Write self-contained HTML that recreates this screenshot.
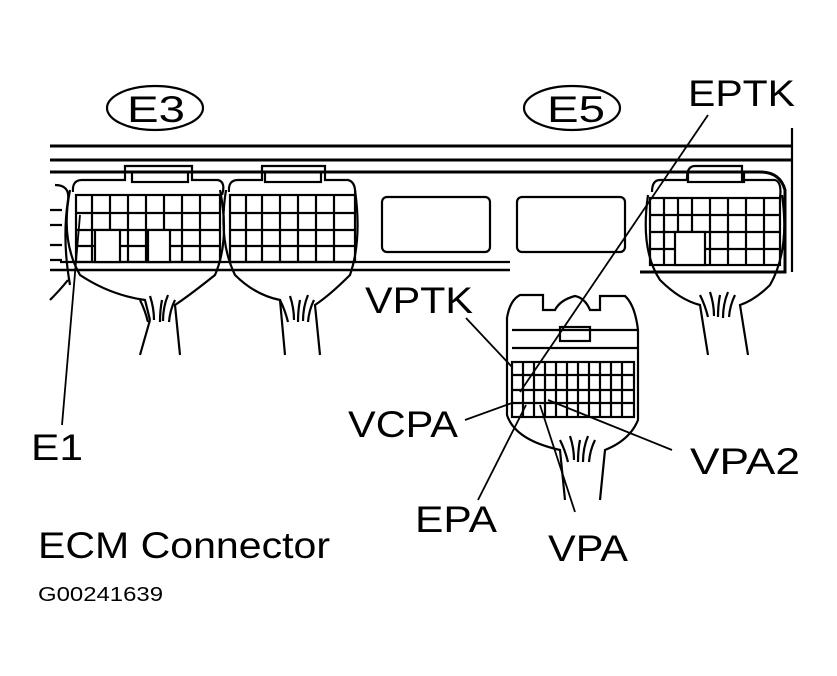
<!DOCTYPE html>
<html><head><style>
html,body{margin:0;padding:0;background:#fff;}
svg{display:block;}
text{font-family:"Liberation Sans",Arial,sans-serif;fill:#000;}
</style></head><body>
<svg width="837" height="676" viewBox="0 0 837 676" xmlns="http://www.w3.org/2000/svg" fill="none" stroke="#000" stroke-width="2.2">
<line x1="50" y1="146" x2="792" y2="146" stroke-width="3"/>
<line x1="50" y1="160" x2="792" y2="160" stroke-width="3"/>
<path d="M50 172 H760 Q780 172 785 190 V272 H640" stroke-width="3"/>
<line x1="792" y1="128" x2="792" y2="272"/>
<line x1="50" y1="270" x2="510" y2="270" stroke-width="2.5"/>
<line x1="60" y1="262" x2="510" y2="262"/>
<path d="M50 210h12M50 225h12M50 245h12M50 260h12" />
<rect x="382" y="197" width="108" height="55" rx="5"/>
<rect x="517" y="197" width="108" height="55" rx="5"/>
<g>
<path d="M73 192 Q72 180 82 180 H125 V166 H192 V180 H218 Q226 182 222 195"/>
<rect x="132" y="172" width="56" height="10"/>
<rect x="76" y="195" width="144" height="67"/>
<path d="M76 213H220M76 230H220M76 246H220"/>
<path d="M92 195V262M110 195V262M128 195V262M146 195V262M164 195V262M182 195V262M200 195V262"/>
<rect x="95" y="230" width="25" height="32" fill="#fff"/>
<rect x="148" y="230" width="22" height="32" fill="#fff"/>
<path d="M70 190 Q60 240 80 275 Q110 295 145 300 L150 320 M220 190 Q230 240 215 275 Q190 295 175 305 L180 355 M150 320 L140 355"/>
<path d="M140 300 q5 10 8 22 M150 296 q4 12 4 24 M162 300 q-2 10 -2 22 M168 295 q-5 12 -5 26 M175 300 q-5 10 -6 22"/>
</g>
<g>
<path d="M229 192 Q228 180 238 180 H262 V166 H325 V180 H348 Q356 182 355 195"/>
<rect x="265" y="172" width="56" height="10"/>
<rect x="230" y="195" width="125" height="67"/>
<path d="M230 213H355M230 230H355M230 246H355"/>
<path d="M246 195V262M262 195V262M280 195V262M298 195V262M316 195V262M334 195V262"/>
<path d="M226 190 Q218 240 235 275 Q255 295 280 300 L285 355 M355 190 Q362 240 350 275 Q330 295 315 305 L320 355"/>
<path d="M280 300 q5 10 8 22 M290 296 q4 12 4 24 M300 300 q-2 10 -2 22 M308 295 q-5 12 -5 26 M314 300 q-5 10 -6 22"/>
</g>
<path d="M55 185 Q70 185 68 200 Q62 240 70 285 M50 300 Q60 290 68 280"/>
<g>
<path d="M652 192 Q652 180 660 180 H687 V178 Q687 166 695 166 H742 V180 H775 Q782 182 780 198"/>
<rect x="688" y="172" width="56" height="10"/>
<rect x="650" y="198" width="130" height="67"/>
<path d="M650 215H780M650 232H780M650 249H780"/>
<path d="M664 198V265M678 198V265M692 198V265M710 198V265M728 198V265M746 198V265M764 198V265"/>
<rect x="675" y="232" width="30" height="33" fill="#fff"/>
<path d="M648 195 Q640 250 660 280 Q680 300 700 305 L708 355 M782 195 Q790 250 770 285 Q755 300 740 305 L748 355"/>
<path d="M700 295 q5 10 8 22 M710 292 q4 12 4 24 M720 295 q-2 10 -2 22 M728 292 q-5 12 -5 26 M735 295 q-5 10 -6 22"/>
</g>
<g>
<path d="M507 330 V318 Q510 300 520 295 H543 V310 H555 Q560 300 575 296 Q585 298 590 310 H600 V296 H625 Q635 305 638 330 V420 Q630 440 605 450 L600 500 M507 330 V415 Q515 440 560 450 L565 500"/>
<path d="M512 348 H638 M512 330 H638"/>
<rect x="560" y="327" width="30" height="14"/>
<rect x="512" y="362" width="122" height="55"/>
<path d="M512 375H634M512 390H634M512 403H634"/>
<path d="M523 362V417M534 362V417M545 362V417M556 362V417M567 362V417M578 362V417M589 362V417M600 362V417M611 362V417M622 362V417"/>
<path d="M560 440 q5 10 8 22 M570 436 q4 12 4 24 M580 440 q-2 10 -2 22 M588 436 q-5 12 -5 26 M595 440 q-5 10 -6 22"/>
</g>
<ellipse cx="155" cy="108" rx="48" ry="22"/>
<ellipse cx="572" cy="108" rx="48" ry="22"/>
<g stroke-width="1.8">
<line x1="708" y1="115" x2="520" y2="392"/>
<line x1="466" y1="318" x2="512" y2="367"/>
<line x1="465" y1="420" x2="512" y2="403"/>
<line x1="478" y1="500" x2="526" y2="405"/>
<line x1="575" y1="512" x2="540" y2="405"/>
<line x1="672" y1="450" x2="548" y2="400"/>
<line x1="62" y1="425" x2="80" y2="215"/>
</g>
<g stroke="none" fill="#000" font-size="37" lengthAdjust="spacingAndGlyphs">
<text x="127" y="122" textLength="58" lengthAdjust="spacingAndGlyphs">E3</text>
<text x="547" y="122" textLength="58" lengthAdjust="spacingAndGlyphs">E5</text>
<text x="688" y="106" textLength="107" lengthAdjust="spacingAndGlyphs">EPTK</text>
<text x="365" y="313" textLength="108" lengthAdjust="spacingAndGlyphs">VPTK</text>
<text x="348" y="437" textLength="110" lengthAdjust="spacingAndGlyphs">VCPA</text>
<text x="31" y="460" textLength="52" lengthAdjust="spacingAndGlyphs">E1</text>
<text x="690" y="474" textLength="110" lengthAdjust="spacingAndGlyphs">VPA2</text>
<text x="415" y="532" textLength="82" lengthAdjust="spacingAndGlyphs">EPA</text>
<text x="548" y="561" textLength="80" lengthAdjust="spacingAndGlyphs">VPA</text>
<text x="38" y="558" textLength="292" lengthAdjust="spacingAndGlyphs">ECM Connector</text>
<text x="38" y="601" font-size="20" textLength="125" lengthAdjust="spacingAndGlyphs">G00241639</text>
</g>
</svg>
</body></html>
